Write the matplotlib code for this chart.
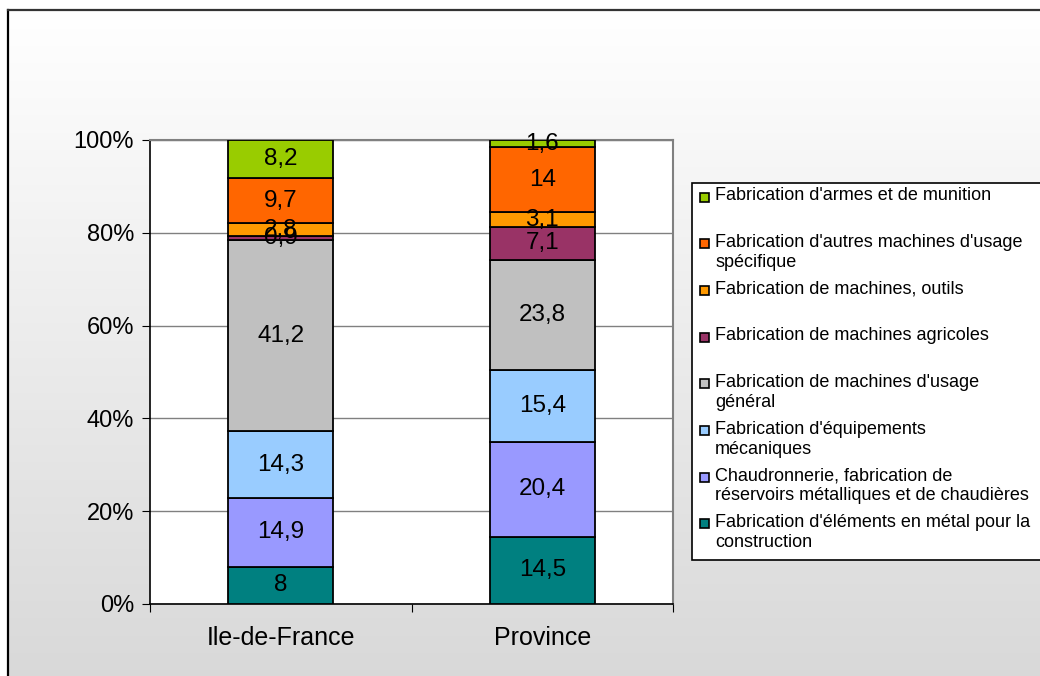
import numpy as np
import matplotlib.pyplot as plt
from matplotlib.patches import Rectangle

plt.rcParams['font.family'] = ['Liberation Sans', 'DejaVu Sans']

# --- Données (de bas en haut de la pile) ---
regions = ["Ile-de-France", "Province"]
series = [
    "Fabrication d'éléments en métal pour la\nconstruction",
    "Chaudronnerie, fabrication de\nréservoirs métalliques et de chaudières",
    "Fabrication d'équipements\nmécaniques",
    "Fabrication de machines d'usage\ngénéral",
    "Fabrication de machines agricoles",
    "Fabrication de machines, outils",
    "Fabrication d'autres machines d'usage\nspécifique",
    "Fabrication d'armes et de munition",
]
ile_de_france = [8, 14.9, 14.3, 41.2, 0.9, 2.8, 9.7, 8.2]
province = [14.5, 20.4, 15.4, 23.8, 7.1, 3.1, 14, 1.6]
colors = ["#008080", "#9999FF", "#99CCFF", "#C0C0C0",
          "#993366", "#FF9900", "#FF6600", "#99CC00"]
yticks = [0, 0.2, 0.4, 0.6, 0.8, 1.0]

W, H = 1040, 676
fig = plt.figure(figsize=(W / 100, H / 100), dpi=100)

# fond dégradé + cadre (coordonnées en pixels)
bg = fig.add_axes([0, 0, 1, 1], zorder=-10)
bg.set_xlim(0, W)
bg.set_ylim(H, 0)
bg.axis("off")
grad = np.linspace(1.0, 0.85, 256)[:, None]
bg.imshow(np.dstack([grad, grad, grad]), extent=(8, W, H, 10),
          aspect="auto", interpolation="bilinear")
bg.plot([8, 8], [H, 10], color="black", lw=1.6)
bg.plot([8, W], [10, 10], color="#333333", lw=1.6)

# --- Barres empilées 100 % ---
ax = fig.add_axes([150 / W, 1 - 604 / H, (673 - 150) / W, (604 - 140) / H])
ax.set_facecolor("white")
data = np.array([ile_de_france, province])
shares = data / data.sum(axis=1, keepdims=True)
x = np.arange(len(regions))
bottom = np.zeros(len(regions))
for j, color in enumerate(colors):
    h = shares[:, j]
    ax.bar(x, h, 0.4, bottom=bottom, color=color, edgecolor="black",
           linewidth=1.3, zorder=3)
    for i in range(len(regions)):
        lab = f"{data[i, j]:g}".replace(".", ",")
        ax.text(x[i], bottom[i] + h[i] / 2, lab, ha="center", va="center",
                fontsize=17.5, zorder=4)
    bottom += h

ax.set_xlim(-0.5, len(regions) - 0.5)
ax.set_ylim(0, 1)
ax.set_yticks(yticks)
ax.set_yticklabels([f"{int(round(t * 100))}%" for t in yticks])
ax.yaxis.grid(True, color="#808080", lw=1, zorder=0)
ax.set_xticks(np.arange(len(regions) + 1) - 0.5)
ax.set_xticklabels([])
ax.set_xticks(x, minor=True)
ax.set_xticklabels(regions, minor=True)
ax.tick_params(axis="x", which="major", direction="out", length=6,
               color="black")
ax.tick_params(axis="x", which="minor", length=0, pad=16, labelsize=18)
ax.tick_params(axis="y", direction="out", length=5.5, pad=6, labelsize=17,
               color="black")
for s in ("top", "right"):
    ax.spines[s].set_color("#808080")
    ax.spines[s].set_linewidth(1.5)
for s in ("left", "bottom"):
    ax.spines[s].set_color("black")
    ax.spines[s].set_linewidth(1.2)

# --- Légende (dessinée en pixels sur le fond) ---
bg.add_patch(Rectangle((692, 183), 360, 377, facecolor="white",
                       edgecolor="black", lw=1.2))
for k, (name, color) in enumerate(zip(series[::-1], colors[::-1])):
    yc = 197 + k * 46.7
    bg.add_patch(Rectangle((700, yc - 4.5), 9, 9, facecolor=color,
                           edgecolor="black", lw=1.2))
    bg.text(715, yc - 10, name, ha="left", va="top", fontsize=13,
            linespacing=1.25)

fig.savefig("out.png", dpi=100)
